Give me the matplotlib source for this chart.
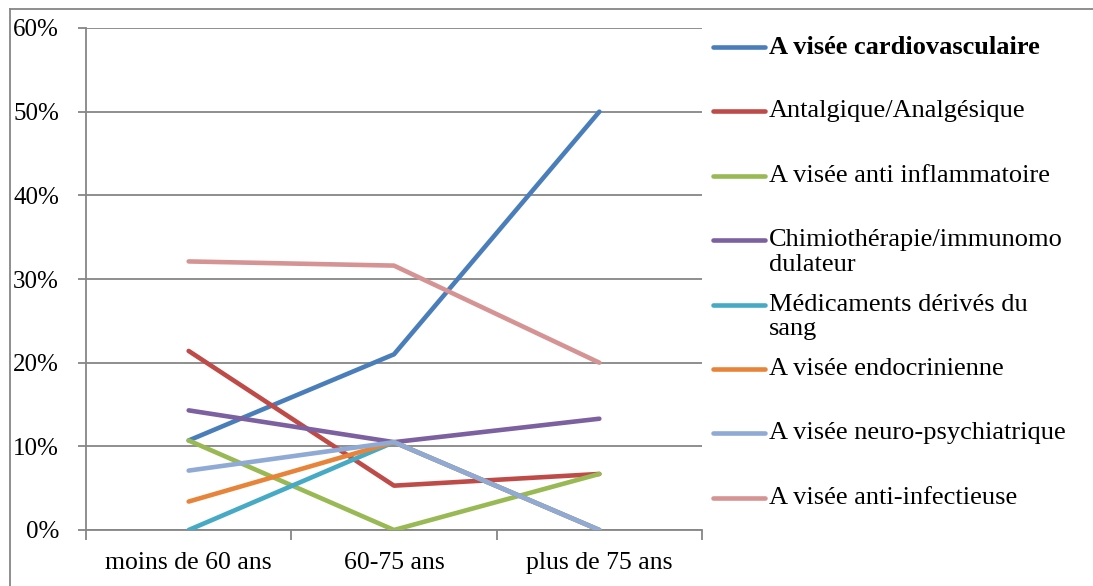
import matplotlib
matplotlib.use("Agg")
import matplotlib.pyplot as plt
from matplotlib.lines import Line2D
from matplotlib.ticker import PercentFormatter

plt.rcParams['font.family'] = ['Liberation Serif', 'DejaVu Serif']

# --- data ---
categories = ['moins de 60 ans', '60-75 ans', 'plus de 75 ans']
series_names = [
    'A visée cardiovasculaire',
    'Antalgique/Analgésique',
    'A visée anti inflammatoire',
    'Chimiothérapie/immunomo\ndulateur',
    'Médicaments dérivés du\nsang',
    'A visée endocrinienne',
    'A visée neuro-psychiatrique',
    'A visée anti-infectieuse',
]
cardio = [10.7, 21.0, 50.0]
antalgique = [21.4, 5.3, 6.7]
anti_inflam = [10.7, 0.0, 6.7]
chimio = [14.3, 10.5, 13.3]
sang = [0.0, 10.5, 0.0]
endocrin = [3.4, 10.5, 0.0]
neuro = [7.1, 10.5, 0.0]
anti_infect = [32.1, 31.6, 20.0]
all_series = [cardio, antalgique, anti_inflam, chimio, sang, endocrin, neuro, anti_infect]
colors = ['#4A7EBB', '#BE4B48', '#98B954', '#7D60A0',
          '#46AAC5', '#E8843A', '#8FAAD4', '#D69393']

# --- figure ---
fig = plt.figure(figsize=(10.93, 5.86), dpi=100)
W, H = 1093, 586
ax = fig.add_axes([86 / W, 1 - 530 / H, (702 - 86) / W, (530 - 28) / H])

x = list(range(len(categories)))
# draw in order so the last series sits on top like the original
for vals, c in zip(all_series, colors):
    ax.plot(x, vals, color=c, lw=3.3, solid_capstyle='round', solid_joinstyle='round', zorder=3)

ax.set_xlim(-0.5, 2.5)
ax.set_ylim(0, 60)
ax.set_yticks(range(0, 61, 10))
ax.yaxis.set_major_formatter(PercentFormatter(decimals=0))
ax.grid(axis='y', color='#868686', lw=1.3, zorder=0)
ax.set_xticks(x)
ax.set_xticklabels(categories)
ax.set_xticks([-0.5, 0.5, 1.5, 2.5], minor=True)
ax.tick_params(axis='x', which='major', length=0, pad=16, labelsize=18.5)
ax.tick_params(axis='x', which='minor', length=7, width=1.3, color='#868686', direction='out')
ax.tick_params(axis='y', length=6, width=1.3, color='#868686', labelsize=18, pad=13.5)
for sp in ['top', 'right']:
    ax.spines[sp].set_visible(False)
for sp in ['left', 'bottom']:
    ax.spines[sp].set_color('#868686')
    ax.spines[sp].set_linewidth(1.3)

# legend drawn by hand to keep Excel's fixed slots
y0 = 47
slot = 64.4
for i, (name, c) in enumerate(zip(series_names, colors)):
    yy = 1 - (y0 + i * slot) / H
    fig.add_artist(Line2D([713 / W, 765 / W], [yy, yy], color=c, lw=3.3,
                          solid_capstyle='round'))
    fig.text(769 / W, yy + 11 / H, name, fontsize=19, va='top', ha='left',
             linespacing=1.17, fontweight='bold' if i == 0 else 'normal')

# chart border (top and left visible)
fig.add_artist(Line2D([10 / W, 10 / W], [0, 1 - 9 / H], color='#868686', lw=1.3))
fig.add_artist(Line2D([10 / W, 1], [1 - 9 / H, 1 - 9 / H], color='#868686', lw=1.3))

fig.savefig('out.png', dpi=100)
